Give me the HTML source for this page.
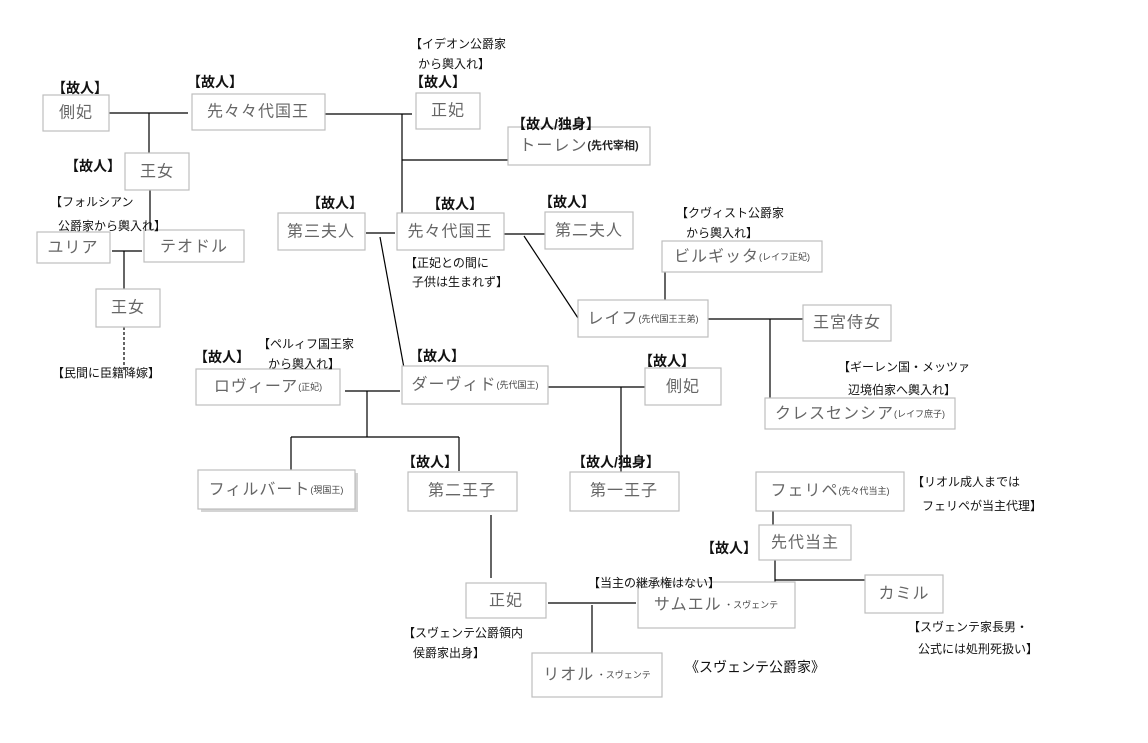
<!DOCTYPE html>
<html><head><meta charset="utf-8"><style>
body{margin:0;background:#fff;}
svg{display:block;font-family:"Liberation Sans","Noto Sans CJK JP",sans-serif;}
.b{fill:#fff;stroke:#bdbdbd;stroke-width:1.2}
.t{fill:#666;font-size:16px;text-anchor:middle;dominant-baseline:central;letter-spacing:1px}
.s{font-size:9px;fill:#444;letter-spacing:0}
.k{fill:#111;font-size:14px;font-weight:bold}
.n{fill:#111;font-size:12px}
line,polyline{stroke:#000;stroke-width:1.2;fill:none}
</style></head><body>
<svg width="1148" height="743" viewBox="0 0 1148 743">
<line x1="109" y1="113" x2="188" y2="113"/><line x1="149" y1="113" x2="149" y2="153"/>
<line x1="325" y1="114" x2="412" y2="114"/><line x1="402" y1="114" x2="402" y2="213"/>
<line x1="402" y1="160" x2="508" y2="160"/>
<line x1="150" y1="190" x2="150" y2="232"/>
<line x1="112" y1="251" x2="142" y2="251"/><line x1="124" y1="251" x2="124" y2="289"/>
<line x1="124" y1="327" x2="124" y2="372" stroke-dasharray="3,2"/>
<line x1="366" y1="233" x2="395" y2="233"/>
<line x1="380" y1="237" x2="404" y2="368"/>
<line x1="504" y1="234" x2="545" y2="234"/>
<line x1="524" y1="236" x2="578" y2="318"/>
<line x1="665" y1="272" x2="665" y2="300"/>
<line x1="708" y1="319" x2="803" y2="319"/><line x1="770" y1="319" x2="770" y2="398"/>
<line x1="345" y1="391" x2="400" y2="391"/><line x1="367" y1="391" x2="367" y2="437"/>
<line x1="291" y1="437" x2="459" y2="437"/><line x1="291" y1="437" x2="291" y2="471"/><line x1="459" y1="437" x2="459" y2="471"/>
<line x1="548" y1="387" x2="645" y2="387"/><line x1="621" y1="387" x2="621" y2="505"/>
<line x1="491" y1="515" x2="491" y2="578"/>
<line x1="548" y1="603" x2="636" y2="603"/><line x1="592" y1="605" x2="592" y2="653"/>
<line x1="773" y1="511" x2="773" y2="525"/>
<line x1="775" y1="560" x2="775" y2="595"/><line x1="775" y1="580" x2="865" y2="580"/>
<rect class="b" x="43" y="95" width="66" height="36"/><text class="t" x="76" y="113">側妃</text>
<rect class="b" x="192" y="94" width="133" height="36"/><text class="t" x="258" y="112">先々々代国王</text>
<rect class="b" x="416" y="93" width="64" height="36"/><text class="t" x="448" y="111">正妃</text>
<rect class="b" x="508" y="127" width="142" height="38"/><text class="t" x="579" y="146">トーレン<tspan style="font-size:11px;fill:#222;font-weight:bold;letter-spacing:0">(先代宰相)</tspan></text>
<rect class="b" x="125" y="153" width="64" height="37"/><text class="t" x="157" y="172">王女</text>
<rect class="b" x="278" y="213" width="87" height="37"/><text class="t" x="321" y="232">第三夫人</text>
<rect class="b" x="397" y="213" width="107" height="37"/><text class="t" x="450" y="232">先々代国王</text>
<rect class="b" x="545" y="212" width="88" height="37"/><text class="t" x="589" y="231">第二夫人</text>
<rect class="b" x="37" y="232" width="73" height="31"/><text class="t" x="73" y="248">ユリア</text>
<rect class="b" x="144" y="230" width="100" height="32"/><text class="t" x="194" y="247">テオドル</text>
<rect class="b" x="96" y="289" width="64" height="38"/><text class="t" x="128" y="308">王女</text>
<rect class="b" x="662" y="241" width="160" height="31"/><text class="t" x="742" y="257">ビルギッタ<tspan class="s">(レイフ正妃)</tspan></text>
<rect class="b" x="578" y="300" width="130" height="37"/><text class="t" x="643" y="319">レイフ<tspan class="s">(先代国王王弟)</tspan></text>
<rect class="b" x="803" y="305" width="88" height="36"/><text class="t" x="847" y="323">王宮侍女</text>
<rect class="b" x="196" y="369" width="144" height="36"/><text class="t" x="268" y="387">ロヴィーア<tspan class="s">(正妃)</tspan></text>
<rect class="b" x="402" y="366" width="146" height="38"/><text class="t" x="475" y="385">ダーヴィド<tspan class="s">(先代国王)</tspan></text>
<rect class="b" x="645" y="368" width="76" height="37"/><text class="t" x="683" y="387">側妃</text>
<rect class="b" x="765" y="398" width="190" height="31"/><text class="t" x="860" y="414">クレスセンシア<tspan class="s">(レイフ庶子)</tspan></text>
<rect x="201" y="473" width="157" height="39" fill="#aaa" opacity="0.5"/>
<rect class="b" x="198" y="470" width="157" height="39"/><text class="t" x="276" y="490">フィルバート<tspan class="s">(現国王)</tspan></text>
<rect class="b" x="408" y="472" width="109" height="39"/><text class="t" x="462" y="491">第二王子</text>
<rect class="b" x="570" y="472" width="109" height="39"/><text class="t" x="624" y="491">第一王子</text>
<rect class="b" x="756" y="472" width="148" height="39"/><text class="t" x="830" y="491">フェリペ<tspan class="s">(先々代当主)</tspan></text>
<rect class="b" x="759" y="525" width="92" height="35"/><text class="t" x="805" y="543">先代当主</text>
<rect class="b" x="865" y="575" width="78" height="38"/><text class="t" x="904" y="594">カミル</text>
<rect class="b" x="466" y="583" width="80" height="35"/><text class="t" x="506" y="601">正妃</text>
<rect class="b" x="638" y="582" width="157" height="46"/><text class="t" x="716" y="605">サムエル<tspan class="s"> ・スヴェンテ</tspan></text>
<rect class="b" x="532" y="653" width="130" height="44"/><text class="t" x="597" y="675">リオル<tspan class="s"> ・スヴェンテ</tspan></text>
<text class="k" x="52" y="93">【故人】</text>
<text class="k" x="187" y="87">【故人】</text>
<text class="n" x="410" y="48">【イデオン公爵家</text>
<text class="n" x="418" y="68">から輿入れ】</text>
<text class="k" x="410" y="87">【故人】</text>
<text class="k" x="512" y="129">【故人/独身】</text>
<text class="k" x="65" y="171">【故人】</text>
<text class="n" x="50" y="206">【フォルシアン</text>
<text class="n" x="58" y="230">公爵家から輿入れ】</text>
<text class="k" x="307" y="208">【故人】</text>
<text class="k" x="427" y="209">【故人】</text>
<text class="k" x="539" y="207">【故人】</text>
<text class="n" x="405" y="267">【正妃との間に</text>
<text class="n" x="412" y="286">子供は生まれず】</text>
<text class="n" x="676" y="217">【クヴィスト公爵家</text>
<text class="n" x="686" y="237">から輿入れ】</text>
<text class="n" x="52" y="377">【民間に臣籍降嫁】</text>
<text class="n" x="258" y="348">【ペルィフ国王家</text>
<text class="n" x="268" y="368">から輿入れ】</text>
<text class="k" x="194" y="362">【故人】</text>
<text class="k" x="409" y="361">【故人】</text>
<text class="k" x="639" y="366">【故人】</text>
<text class="n" x="838" y="371">【ギーレン国・メッツァ</text>
<text class="n" x="848" y="394">辺境伯家へ輿入れ】</text>
<text class="k" x="402" y="467">【故人】</text>
<text class="k" x="572" y="467">【故人/独身】</text>
<text class="n" x="912" y="486">【リオル成人までは</text>
<text class="n" x="922" y="510">フェリペが当主代理】</text>
<text class="k" x="701" y="553">【故人】</text>
<text class="n" x="588" y="587">【当主の継承権はない】</text>
<text class="n" x="403" y="637">【スヴェンテ公爵領内</text>
<text class="n" x="413" y="657">侯爵家出身】</text>
<text class="n" x="908" y="631">【スヴェンテ家長男・</text>
<text class="n" x="918" y="653">公式には処刑死扱い】</text>
<text class="n" x="685" y="672" style="font-size:14px">《スヴェンテ公爵家》</text>
</svg>
</body></html>
